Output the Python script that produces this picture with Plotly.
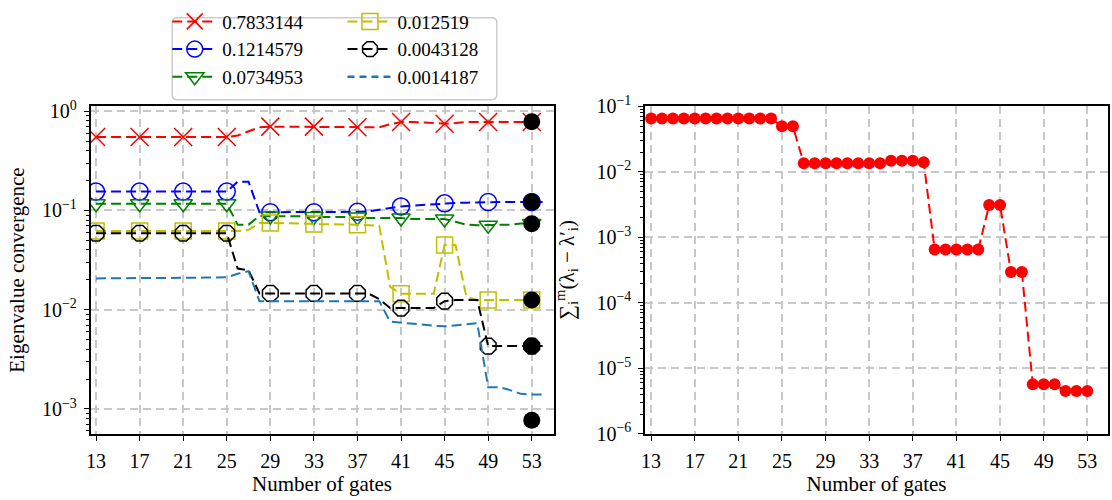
import plotly.graph_objects as go

# ---------------- data ----------------
gates = list(range(13, 55))          # line samples (left panel)
marker_gates = list(range(13, 54, 4))  # gates carrying a marker
tick_gates = list(range(13, 54, 4))

labels = ["0.7833144", "0.1214579", "0.0734953", "0.012519", "0.0043128", "0.0014187"]

s_red = [0.55, 0.55, 0.55, 0.55, 0.55, 0.55, 0.55, 0.55, 0.55, 0.55, 0.55, 0.55, 0.55,
         0.57, 0.63, 0.69,
         0.70, 0.70, 0.70, 0.70, 0.70, 0.70, 0.70, 0.69, 0.69,
         0.69, 0.69, 0.74, 0.78, 0.78, 0.77, 0.76, 0.75, 0.76, 0.78, 0.78, 0.78,
         0.78, 0.78, 0.78, 0.78, 0.78]
s_blue = [0.155, 0.155, 0.155, 0.155, 0.155, 0.155, 0.155, 0.155, 0.155, 0.155, 0.155, 0.155, 0.155,
          0.195, 0.195, 0.096,
          0.096, 0.096, 0.096, 0.096, 0.096, 0.096, 0.096, 0.096, 0.097,
          0.098, 0.102, 0.107, 0.110, 0.112, 0.114, 0.116, 0.118, 0.119, 0.120, 0.121, 0.122,
          0.122, 0.122, 0.122, 0.122, 0.122]
s_green = [0.117, 0.117, 0.117, 0.117, 0.117, 0.117, 0.117, 0.117, 0.117, 0.117, 0.117, 0.117, 0.117,
           0.072, 0.072, 0.088,
           0.088, 0.087, 0.087, 0.087, 0.087, 0.086, 0.086, 0.086, 0.086,
           0.084, 0.084, 0.084, 0.084, 0.082, 0.082, 0.082, 0.082, 0.077, 0.072, 0.071, 0.071,
           0.072, 0.072, 0.074, 0.074, 0.074]
s_yellow = [0.062, 0.062, 0.062, 0.062, 0.062, 0.062, 0.062, 0.062, 0.062, 0.062, 0.062, 0.062, 0.062,
            0.062, 0.064, 0.075,
            0.075, 0.075, 0.074, 0.074, 0.073, 0.073, 0.072, 0.072, 0.072,
            0.071, 0.070, 0.017, 0.0145, 0.0145, 0.0145, 0.0145, 0.045, 0.045, 0.0135, 0.0125, 0.0125,
            0.0125, 0.0125, 0.0125, 0.0125, 0.0125]
s_black = [0.059, 0.059, 0.059, 0.059, 0.059, 0.059, 0.059, 0.059, 0.059, 0.059, 0.059, 0.059, 0.059,
           0.026, 0.025, 0.0146,
           0.0146, 0.0146, 0.0146, 0.0146, 0.0146, 0.0146, 0.0146, 0.0146, 0.0146,
           0.0146, 0.0128, 0.0104, 0.0104, 0.0104, 0.0104, 0.0104, 0.0122, 0.0125, 0.0125, 0.0125, 0.0043,
           0.0043, 0.0043, 0.0043, 0.0043, 0.0043]
s_ltblue = [0.0207, 0.0207, 0.0207, 0.0207, 0.0208, 0.0208, 0.0209, 0.0209, 0.0210, 0.0210, 0.0211, 0.0211, 0.0212,
            0.023, 0.0245, 0.0122,
            0.0122, 0.0122, 0.0122, 0.0122, 0.0122, 0.0122, 0.0122, 0.0122, 0.0122,
            0.0122, 0.0122, 0.0076, 0.0074, 0.0073, 0.0071, 0.0069, 0.0068, 0.0070, 0.0072, 0.0073, 0.00166,
            0.00166, 0.00155, 0.00142, 0.0014, 0.0014]

exact_gate = 53
exact_vals = [0.7833144, 0.1214579, 0.0734953, 0.012519, 0.0043128, 0.00077]

gates_r = list(range(13, 54))
err_sum = [0.065, 0.065, 0.065, 0.065, 0.065, 0.065, 0.065, 0.065, 0.065, 0.065, 0.065, 0.065,
           0.0495, 0.0495,
           0.0135, 0.0135, 0.0135, 0.0135, 0.0135, 0.0135, 0.0135, 0.0135,
           0.0148, 0.0148, 0.0148, 0.014,
           0.00065, 0.00065, 0.00065, 0.00065, 0.00065,
           0.0031, 0.0031,
           0.000295, 0.000295,
           5.7e-6, 5.7e-6, 5.7e-6,
           4.5e-6, 4.5e-6, 4.5e-6]

# ---------------- styling ----------------
FONT = "Liberation Serif"
FS_TICK = 20
FS_TITLE = 21
FS_LEG = 19
DASH = "10px,5px"
series = [
    (s_red, "#ff0000", "x-thin-open", 18),
    (s_blue, "#0000ff", "circle-open", 17),
    (s_green, "#008000", "triangle-down-open", 16),
    (s_yellow, "#bfbf00", "square-open", 16),
    (s_black, "#000000", "octagon-open", 17),
    (s_ltblue, "#1f77b4", None, 0),
]

fig = go.Figure()

for i, (ys, col, sym, ms) in enumerate(series):
    fig.add_trace(go.Scatter(x=gates, y=ys, mode="lines", line=dict(color=col, width=2, dash=DASH),
                             showlegend=False, xaxis="x", yaxis="y", hoverinfo="skip"))
    if sym:
        mx = [g for g in marker_gates]
        my = [ys[g - gates[0]] for g in marker_gates]
        fig.add_trace(go.Scatter(x=mx, y=my, mode="markers",
                                 marker=dict(symbol=sym, size=ms, color=col,
                                             line=dict(color=col, width=1.5)),
                                 showlegend=False, xaxis="x", yaxis="y"))

# exact eigenvalues
fig.add_trace(go.Scatter(x=[exact_gate] * len(exact_vals), y=exact_vals, mode="markers",
                         marker=dict(symbol="circle", size=17, color="black", line=dict(width=0)),
                         showlegend=False, xaxis="x", yaxis="y"))

# legend entries (two columns -> two legends)
for i, (ys, col, sym, ms) in enumerate(series):
    leg = "legend" if i < 3 else "legend2"
    if sym:
        fig.add_trace(go.Scatter(x=[None], y=[None], mode="lines+markers", name=labels[i],
                                 line=dict(color=col, width=2, dash=DASH),
                                 marker=dict(symbol=sym, size=ms, color=col, line=dict(color=col, width=1.5)),
                                 legend=leg, xaxis="x", yaxis="y"))
    else:
        fig.add_trace(go.Scatter(x=[None], y=[None], mode="lines", name=labels[i],
                                 line=dict(color=col, width=2.5, dash="7px,5px"),
                                 legend=leg, xaxis="x", yaxis="y"))

# right panel
fig.add_trace(go.Scatter(x=gates_r, y=err_sum, mode="lines+markers",
                         line=dict(color="#ff0000", width=2, dash=DASH),
                         marker=dict(symbol="circle", size=12, color="#ff0000"),
                         showlegend=False, xaxis="x2", yaxis="y2"))


def minor_vals(lo, hi):
    out = []
    for d in range(lo, hi):
        for m in range(2, 10):
            out.append(m * 10.0 ** d)
    return out


sup = lambda e: "10<sup>%s</sup>" % (str(e).replace("-", "\u2212"))

common_x = dict(type="linear", tickvals=tick_gates, ticktext=[str(t) for t in tick_gates],
                ticks="outside", ticklen=5, tickwidth=1.3, tickcolor="black",
                showline=True, linecolor="black", linewidth=1.5, mirror=True,
                showgrid=True, gridcolor="#c8c8c8", gridwidth=1.5, griddash="8px,5px",
                zeroline=False, tickfont=dict(family=FONT, size=FS_TICK, color="black"),
                ticklabelstandoff=3,
                title=dict(text="Number of gates", font=dict(family=FONT, size=FS_TITLE, color="black"), standoff=5))
common_y = dict(type="log", ticks="outside", ticklen=5, tickwidth=1.3, tickcolor="black",
                showline=True, linecolor="black", linewidth=1.5, mirror=True,
                showgrid=True, gridcolor="#c8c8c8", gridwidth=1.5, griddash="8px,5px",
                zeroline=False, tickfont=dict(family=FONT, size=FS_TICK, color="black"),
                ticklabelstandoff=3)

yl_ticks = [1, 0.1, 0.01, 0.001]
yr_ticks = [0.1, 0.01, 0.001, 1e-4, 1e-5, 1e-6]

fig.update_layout(
    width=1112, height=500, margin=dict(l=0, r=0, t=0, b=0),
    paper_bgcolor="white", plot_bgcolor="white",
    font=dict(family=FONT, size=FS_TICK, color="black"),
    xaxis=dict(common_x, domain=[86 / 1112, 551 / 1112], range=[12.5, 55.0], anchor="y"),
    yaxis=dict(common_y, domain=[1 - 442 / 500, 1 - 98 / 500], range=[-3.25, 0.05], anchor="x",
               tickvals=yl_ticks, ticktext=[sup(e) for e in [0, -1, -2, -3]],
               minor=dict(tickvals=minor_vals(-4, 1), ticks="outside", ticklen=3, tickwidth=1,
                          tickcolor="black", showgrid=False),
               title=dict(text="Eigenvalue convergence", font=dict(family=FONT, size=FS_TITLE, color="black"), standoff=12)),
    xaxis2=dict(common_x, domain=[643 / 1112, 1108 / 1112], range=[12.45, 54.9], anchor="y2"),
    yaxis2=dict(common_y, domain=[1 - 442 / 500, 1 - 98 / 500], range=[-6, -1], anchor="x2",
                tickvals=yr_ticks, ticktext=[sup(e) for e in [-1, -2, -3, -4, -5, -6]],
                minor=dict(tickvals=minor_vals(-7, 0), ticks="outside", ticklen=3, tickwidth=1,
                           tickcolor="black", showgrid=False),
                title=dict(text="\u2211<sub>i</sub><sup>m</sup>(\u03bb<sub>i</sub> \u2212 \u03bb\u2032<sub>i</sub>)",
                           font=dict(family=FONT, size=FS_TITLE, color="black"), standoff=16)),
    legend=dict(x=163 / 1112, y=1.022, xanchor="left", yanchor="top", bgcolor="rgba(0,0,0,0)",
                borderwidth=0, font=dict(family=FONT, size=FS_LEG, color="black"), itemwidth=45,
                tracegroupgap=0),
    legend2=dict(x=339 / 1112, y=1.022, xanchor="left", yanchor="top", bgcolor="rgba(0,0,0,0)",
                 borderwidth=0, font=dict(family=FONT, size=FS_LEG, color="black"), itemwidth=45,
                 tracegroupgap=0),
)

# legend frame (rounded box)
x0, x1 = 168 / 1112, 494 / 1112
yt, yb = 1 - 5 / 500, 1 - 91 / 500
rx, ry = 5 / 1112, 5 / 500
path = (f"M{x0+rx},{yt} L{x1-rx},{yt} Q{x1},{yt} {x1},{yt-ry} L{x1},{yb+ry} Q{x1},{yb} {x1-rx},{yb} "
        f"L{x0+rx},{yb} Q{x0},{yb} {x0},{yb+ry} L{x0},{yt-ry} Q{x0},{yt} {x0+rx},{yt} Z")
fig.add_shape(type="path", path=path, xref="paper", yref="paper",
              line=dict(color="#cccccc", width=1.5), fillcolor="rgba(255,255,255,0)", layer="above")

fig.write_html("out.html")
